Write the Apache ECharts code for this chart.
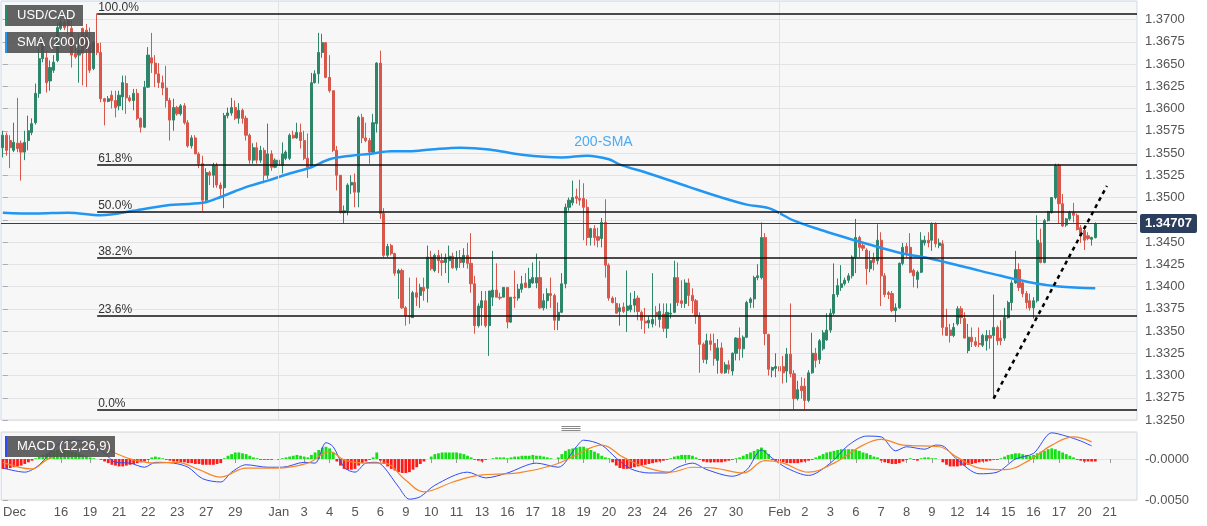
<!DOCTYPE html>
<html>
<head>
<meta charset="utf-8">
<script src="https://cdn.jsdelivr.net/npm/echarts/dist/echarts.min.js"></script>
<style>
html,body{margin:0;padding:0;background:#fff;}
#chart{width:1207px;height:526px;}
</style>
</head>
<body>
<div id="chart"></div>
<script>
// ---------------- DATA ----------------
// 4H candles: [open, close, low, high]
const candles = [
[1.3556,1.3570,1.3545,1.3575],[1.3570,1.3553,1.3547,1.3573],[1.3564,1.3556,1.3533,1.3570],[1.3553,1.3562,1.3551,1.3584],
[1.3561,1.3555,1.3551,1.3612],[1.3561,1.3551,1.3519,1.3564],[1.3551,1.3562,1.3542,1.3575],[1.3564,1.3575,1.3553,1.3592],
[1.3573,1.3583,1.3570,1.3589],[1.3584,1.3617,1.3582,1.3628],[1.3617,1.3656,1.3612,1.3669],[1.3656,1.3674,1.3652,1.3682],
[1.3657,1.3629,1.3618,1.3665],[1.3631,1.3646,1.3620,1.3654],[1.3643,1.3652,1.3640,1.3660],[1.3654,1.3691,1.3652,1.3697],
[1.3690,1.3697,1.3688,1.3701],[1.3697,1.3691,1.3688,1.3699],[1.3699,1.3693,1.3682,1.3701],[1.3690,1.3660,1.3646,1.3699],
[1.3662,1.3658,1.3656,1.3671],[1.3660,1.3665,1.3629,1.3684],[1.3690,1.3662,1.3626,1.3691],[1.3688,1.3669,1.3624,1.3695],
[1.3673,1.3643,1.3640,1.3691],[1.3645,1.3674,1.3643,1.3676],[1.3673,1.3663,1.3660,1.3707],[1.3663,1.3611,1.3607,1.3674],
[1.3611,1.3608,1.3581,1.3612],[1.3608,1.3611,1.3607,1.3614],[1.3615,1.3609,1.3600,1.3620],[1.3609,1.3601,1.3590,1.3620],
[1.3603,1.3615,1.3598,1.3620],[1.3613,1.3629,1.3598,1.3637],[1.3628,1.3612,1.3594,1.3637],[1.3612,1.3609,1.3607,1.3615],
[1.3609,1.3617,1.3598,1.3622],[1.3617,1.3589,1.3587,1.3622],[1.3589,1.3579,1.3573,1.3590],[1.3579,1.3624,1.3578,1.3631],
[1.3624,1.3660,1.3623,1.3669],[1.3657,1.3651,1.3640,1.3685],[1.3651,1.3639,1.3624,1.3660],[1.3639,1.3629,1.3623,1.3651],
[1.3629,1.3623,1.3615,1.3637],[1.3623,1.3609,1.3601,1.3648],[1.3609,1.3587,1.3564,1.3612],[1.3587,1.3601,1.3575,1.3611],
[1.3601,1.3594,1.3592,1.3603],[1.3594,1.3603,1.3592,1.3605],[1.3603,1.3584,1.3582,1.3606],[1.3584,1.3558,1.3556,1.3587],
[1.3558,1.3567,1.3555,1.3570],[1.3567,1.3549,1.3549,1.3570],[1.3549,1.3538,1.3533,1.3551],[1.3538,1.3497,1.3485,1.3547],
[1.3497,1.3528,1.3494,1.3533],[1.3528,1.3525,1.3514,1.3530],[1.3525,1.3536,1.3511,1.3539],[1.3536,1.3514,1.3511,1.3539],
[1.3514,1.3510,1.3502,1.3517],[1.3511,1.3592,1.3488,1.3595],[1.3592,1.3595,1.3589,1.3601],[1.3595,1.3601,1.3592,1.3612],
[1.3601,1.3589,1.3587,1.3609],[1.3589,1.3598,1.3583,1.3606],[1.3598,1.3589,1.3583,1.3600],[1.3589,1.3570,1.3564,1.3592],
[1.3570,1.3542,1.3538,1.3572],[1.3542,1.3556,1.3538,1.3561],[1.3556,1.3542,1.3538,1.3562],[1.3542,1.3553,1.3539,1.3558],
[1.3553,1.3525,1.3516,1.3556],[1.3525,1.3549,1.3521,1.3583],[1.3549,1.3534,1.3530,1.3553],[1.3534,1.3542,1.3533,1.3544],
[1.3542,1.3536,1.3527,1.3555],[1.3536,1.3549,1.3527,1.3562],[1.3544,1.3551,1.3542,1.3553],[1.3544,1.3570,1.3542,1.3572],
[1.3570,1.3567,1.3566,1.3575],[1.3567,1.3573,1.3566,1.3584],[1.3573,1.3564,1.3555,1.3583],[1.3564,1.3544,1.3542,1.3575],
[1.3544,1.3534,1.3522,1.3572],[1.3534,1.3629,1.3533,1.3640],[1.3629,1.3639,1.3628,1.3643],[1.3639,1.3663,1.3628,1.3685],
[1.3663,1.3674,1.3657,1.3684],[1.3674,1.3635,1.3634,1.3674],[1.3635,1.3620,1.3618,1.3660],[1.3620,1.3553,1.3551,1.3620],
[1.3553,1.3525,1.3508,1.3558],[1.3525,1.3483,1.3482,1.3525],[1.3483,1.3485,1.3471,1.3491],[1.3485,1.3514,1.3480,1.3516],
[1.3514,1.3517,1.3504,1.3525],[1.3517,1.3506,1.3489,1.3527],[1.3506,1.3590,1.3489,1.3592],[1.3590,1.3567,1.3561,1.3594],
[1.3567,1.3564,1.3562,1.3584],[1.3564,1.3551,1.3538,1.3567],[1.3551,1.3584,1.3549,1.3594],[1.3583,1.3651,1.3573,1.3652],
[1.3651,1.3482,1.3476,1.3665],[1.3482,1.3435,1.3433,1.3488],[1.3435,1.3445,1.3433,1.3448],[1.3446,1.3437,1.3435,1.3448],
[1.3437,1.3415,1.3412,1.3438],[1.3415,1.3418,1.3386,1.3420],[1.3418,1.3376,1.3375,1.3420],[1.3376,1.3367,1.3356,1.3378],
[1.3367,1.3366,1.3358,1.3410],[1.3365,1.3393,1.3365,1.3395],[1.3393,1.3388,1.3378,1.3410],[1.3390,1.3399,1.3376,1.3403],
[1.3399,1.3395,1.3384,1.3410],[1.3398,1.3433,1.3382,1.3446],[1.3433,1.3420,1.3418,1.3440],[1.3418,1.3435,1.3416,1.3437],
[1.3435,1.3429,1.3415,1.3441],[1.3429,1.3427,1.3412,1.3437],[1.3427,1.3432,1.3415,1.3437],[1.3429,1.3434,1.3404,1.3446],
[1.3434,1.3421,1.3420,1.3438],[1.3421,1.3432,1.3418,1.3440],[1.3432,1.3427,1.3421,1.3441],[1.3427,1.3435,1.3421,1.3443],
[1.3435,1.3426,1.3420,1.3449],[1.3426,1.3403,1.3393,1.3460],[1.3403,1.3356,1.3347,1.3412],[1.3356,1.3378,1.3354,1.3381],
[1.3376,1.3384,1.3356,1.3395],[1.3384,1.3356,1.3354,1.3395],[1.3356,1.3395,1.3322,1.3395],[1.3388,1.3396,1.3378,1.3440],
[1.3396,1.3388,1.3388,1.3426],[1.3388,1.3387,1.3385,1.3393],[1.3388,1.3399,1.3388,1.3399],[1.3399,1.3360,1.3353,1.3399],
[1.3360,1.3388,1.3359,1.3388],[1.3388,1.3387,1.3376,1.3418],[1.3387,1.3397,1.3384,1.3403],[1.3397,1.3403,1.3393,1.3412],
[1.3404,1.3399,1.3399,1.3415],[1.3399,1.3408,1.3398,1.3421],[1.3404,1.3410,1.3403,1.3427],[1.3404,1.3410,1.3398,1.3437],
[1.3410,1.3376,1.3375,1.3429],[1.3376,1.3384,1.3373,1.3392],[1.3384,1.3392,1.3375,1.3398],[1.3392,1.3390,1.3376,1.3410],
[1.3390,1.3362,1.3351,1.3392],[1.3362,1.3371,1.3351,1.3382],[1.3371,1.3403,1.3370,1.3415],[1.3403,1.3489,1.3398,1.3493],
[1.3489,1.3497,1.3485,1.3500],[1.3494,1.3500,1.3491,1.3519],[1.3501,1.3499,1.3493,1.3510],[1.3499,1.3497,1.3491,1.3520],
[1.3499,1.3489,1.3452,1.3516],[1.3489,1.3455,1.3446,1.3498],[1.3455,1.3465,1.3446,1.3466],[1.3465,1.3455,1.3446,1.3469],
[1.3456,1.3452,1.3444,1.3466],[1.3454,1.3472,1.3444,1.3477],[1.3472,1.3424,1.3410,1.3498],[1.3424,1.3387,1.3384,1.3426],
[1.3387,1.3382,1.3381,1.3389],[1.3381,1.3370,1.3370,1.3388],[1.3372,1.3376,1.3356,1.3381],[1.3377,1.3372,1.3370,1.3382],
[1.3373,1.3378,1.3349,1.3418],[1.3374,1.3379,1.3371,1.3393],[1.3379,1.3386,1.3371,1.3395],[1.3387,1.3372,1.3362,1.3390],
[1.3371,1.3362,1.3352,1.3373],[1.3361,1.3359,1.3347,1.3376],[1.3359,1.3362,1.3353,1.3367],[1.3358,1.3363,1.3354,1.3415],
[1.3371,1.3367,1.3356,1.3378],[1.3363,1.3372,1.3354,1.3381],[1.3369,1.3353,1.3349,1.3381],[1.3353,1.3371,1.3342,1.3381],
[1.3369,1.3370,1.3364,1.3381],[1.3371,1.3410,1.3370,1.3429],[1.3410,1.3382,1.3378,1.3427],[1.3384,1.3381,1.3376,1.3407],
[1.3381,1.3404,1.3376,1.3408],[1.3404,1.3390,1.3378,1.3409],[1.3390,1.3384,1.3370,1.3398],[1.3384,1.3367,1.3358,1.3386],
[1.3367,1.3335,1.3303,1.3371],[1.3335,1.3318,1.3314,1.3337],[1.3318,1.3339,1.3313,1.3347],[1.3339,1.3335,1.3328,1.3347],
[1.3336,1.3319,1.3311,1.3347],[1.3317,1.3331,1.3302,1.3341],[1.3331,1.3303,1.3302,1.3337],[1.3303,1.3312,1.3302,1.3315],
[1.3312,1.3307,1.3302,1.3317],[1.3305,1.3325,1.3300,1.3326],[1.3325,1.3342,1.3317,1.3343],[1.3342,1.3330,1.3317,1.3354],
[1.3330,1.3343,1.3320,1.3345],[1.3343,1.3382,1.3342,1.3384],[1.3382,1.3386,1.3376,1.3388],[1.3386,1.3410,1.3376,1.3412],
[1.3410,1.3412,1.3407,1.3425],[1.3410,1.3455,1.3408,1.3472],[1.3455,1.3347,1.3334,1.3460],[1.3346,1.3307,1.3300,1.3347],
[1.3306,1.3309,1.3298,1.3310],[1.3308,1.3310,1.3298,1.3325],[1.3310,1.3305,1.3302,1.3313],[1.3310,1.3303,1.3291,1.3322],
[1.3305,1.3324,1.3292,1.3331],[1.3324,1.3302,1.3298,1.3381],[1.3302,1.3274,1.3262,1.3306],[1.3274,1.3284,1.3272,1.3294],
[1.3288,1.3283,1.3274,1.3298],[1.3288,1.3272,1.3262,1.3297],[1.3272,1.3303,1.3270,1.3306],[1.3303,1.3325,1.3302,1.3348],
[1.3325,1.3317,1.3309,1.3331],[1.3318,1.3339,1.3313,1.3341],[1.3330,1.3348,1.3328,1.3351],[1.3340,1.3351,1.3339,1.3370],
[1.3351,1.3370,1.3348,1.3375],[1.3370,1.3391,1.3368,1.3426],[1.3391,1.3401,1.3388,1.3409],[1.3399,1.3403,1.3395,1.3424],
[1.3403,1.3407,1.3401,1.3410],[1.3407,1.3412,1.3404,1.3415],[1.3412,1.3433,1.3409,1.3435],[1.3433,1.3455,1.3415,1.3476],
[1.3455,1.3444,1.3433,1.3457],[1.3446,1.3443,1.3440,1.3449],[1.3441,1.3420,1.3402,1.3443],[1.3420,1.3429,1.3416,1.3440],
[1.3432,1.3427,1.3418,1.3438],[1.3429,1.3452,1.3425,1.3470],[1.3452,1.3412,1.3378,1.3461],[1.3412,1.3391,1.3388,1.3415],
[1.3393,1.3391,1.3386,1.3395],[1.3392,1.3373,1.3371,1.3395],[1.3373,1.3376,1.3360,1.3381],[1.3376,1.3426,1.3375,1.3427],
[1.3426,1.3444,1.3424,1.3449],[1.3445,1.3438,1.3433,1.3449],[1.3444,1.3416,1.3415,1.3460],[1.3418,1.3412,1.3399,1.3420],
[1.3408,1.3416,1.3398,1.3418],[1.3416,1.3452,1.3415,1.3461],[1.3449,1.3452,1.3446,1.3457],[1.3452,1.3449,1.3444,1.3461],
[1.3452,1.3471,1.3440,1.3472],[1.3471,1.3448,1.3444,1.3472],[1.3446,1.3449,1.3443,1.3454],[1.3448,1.3354,1.3345,1.3452],
[1.3354,1.3345,1.3345,1.3375],[1.3351,1.3345,1.3337,1.3358],[1.3345,1.3354,1.3343,1.3359],[1.3358,1.3375,1.3356,1.3378],
[1.3375,1.3365,1.3358,1.3378],[1.3364,1.3342,1.3342,1.3371],[1.3328,1.3343,1.3325,1.3358],[1.3343,1.3338,1.3332,1.3354],
[1.3338,1.3334,1.3332,1.3343],[1.3336,1.3335,1.3332,1.3354],[1.3334,1.3345,1.3332,1.3347],[1.3339,1.3345,1.3328,1.3351],
[1.3345,1.3342,1.3330,1.3351],[1.3345,1.3354,1.3274,1.3391],[1.3354,1.3339,1.3334,1.3356],[1.3342,1.3339,1.3334,1.3362],
[1.3342,1.3365,1.3339,1.3376],[1.3365,1.3382,1.3364,1.3384],[1.3382,1.3404,1.3373,1.3407],[1.3404,1.3419,1.3403,1.3440],
[1.3419,1.3399,1.3395,1.3426],[1.3404,1.3392,1.3388,1.3407],[1.3392,1.3382,1.3375,1.3395],[1.3384,1.3376,1.3373,1.3392],
[1.3376,1.3384,1.3364,1.3388],[1.3384,1.3452,1.3382,1.3480],[1.3449,1.3427,1.3426,1.3465],[1.3427,1.3474,1.3426,1.3476],
[1.3474,1.3484,1.3473,1.3485],[1.3483,1.3500,1.3482,1.3500],[1.3500,1.3536,1.3498,1.3538],[1.3536,1.3493,1.3471,1.3538],
[1.3493,1.3468,1.3467,1.3504],[1.3469,1.3476,1.3467,1.3477],[1.3476,1.3483,1.3474,1.3485],[1.3483,1.3480,1.3472,1.3494],
[1.3480,1.3464,1.3463,1.3482],[1.3466,1.3457,1.3449,1.3469],[1.3463,1.3452,1.3441,1.3466],[1.3457,1.3454,1.3452,1.3461],
[1.3453,1.3455,1.3446,1.3456],[1.3455,1.34707,1.3454,1.3472]
];

// 200-period SMA: [candle index, value]
const sma200 = [
[0,1.3483],[9,1.3482],[18,1.3483],[27,1.3480],[36,1.3485],[45,1.3491],[55,1.3494],[59,1.3499],[64,1.3507],[68,1.3513],
[73,1.3519],[79,1.3527],[85,1.3534],[90,1.3543],[96,1.3547],[101,1.3549],[107,1.3552],[112,1.3552],[118,1.3554],[126,1.3556],
[134,1.3554],[143,1.3548],[154,1.3545],[161,1.3547],[167,1.3543],[170,1.3537],[178,1.3527],[189,1.3512],[198,1.3500],[205,1.3492],
[211,1.3488],[218,1.3474],[225,1.3464],[233,1.3454],[238,1.3448],[247,1.3438],[256,1.3431],[266,1.3421],[275,1.3412],[284,1.3404],
[291,1.3400],[301,1.3398]
];

// MACD (12,26,9)
const macdLine = [
[0,-0.0011],[6,-0.0016],[10,-0.0007],[15,0.0017],[19,0.0023],[24,0.0020],[28,0.0007],[31,-0.0004],[35,-0.0005],[39,-0.0010],
[42,-0.0004],[47,-0.0005],[51,-0.0010],[55,-0.0024],[60,-0.0028],[63,-0.0016],[67,-0.0007],[73,-0.0010],[77,-0.0010],[83,-0.0004],
[86,-0.0005],[89,0.0020],[91,0.0015],[94,-0.0010],[97,-0.0016],[100,-0.0005],[103,-0.0004],[105,-0.0010],[109,-0.0034],[112,-0.0049],
[115,-0.0046],[119,-0.0032],[128,-0.0016],[133,-0.0023],[139,-0.0017],[147,-0.0005],[153,-0.0010],[158,0.0015],[160,0.0023],[165,0.0017],
[169,0.0001],[173,-0.0012],[178,-0.0017],[183,-0.0017],[186,-0.0010],[190,-0.0005],[194,-0.0013],[201,-0.0021],[205,-0.0013],[209,0.0011],
[212,0.0001],[216,-0.0011],[222,-0.0020],[228,-0.0005],[233,0.0017],[238,0.0028],[242,0.0027],[246,0.0010],[249,0.0015],[254,0.0012],
[257,0.0017],[259,0.0016],[263,-0.0001],[269,-0.0018],[274,-0.0016],[279,0.0000],[284,0.0007],[289,0.0032],[293,0.0028],[297,0.0022],
[300,0.0016]
];
const signalLine = [
[0,-0.0004],[8,-0.0012],[12,-0.0001],[21,0.0017],[26,0.0020],[31,0.0007],[36,-0.0001],[42,-0.0005],[48,-0.0004],[54,-0.0013],
[60,-0.0022],[67,-0.0011],[75,-0.0011],[84,-0.0005],[90,0.0009],[94,-0.0001],[100,-0.0005],[105,-0.0005],[111,-0.0026],[116,-0.0040],
[124,-0.0028],[131,-0.0020],[142,-0.0017],[152,-0.0007],[158,0.0005],[165,0.0017],[171,0.0002],[177,-0.0010],[184,-0.0016],[190,-0.0010],
[196,-0.0011],[204,-0.0017],[210,-0.0002],[215,-0.0005],[222,-0.0016],[229,-0.0005],[237,0.0017],[242,0.0024],[248,0.0017],[258,0.0015],
[263,0.0002],[269,-0.0011],[276,-0.0013],[283,-0.0001],[289,0.0017],[295,0.0027],[300,0.0021]
];
const macdHist = [
-0.0012,-0.0012,-0.0011,-0.0010,-0.0009,-0.0008,-0.0006,-0.0004,-0.0002,
0.0001,0.0003,0.0005,0.0007,0.0009,0.0010,0.0011,0.0011,0.0011,0.0010,0.0009,0.0008,0.0007,0.0005,0.0004,0.0002,
0.0001,0.0000,
-0.0001,-0.0003,-0.0005,-0.0007,-0.0008,-0.0009,-0.0009,-0.0008,-0.0007,-0.0006,-0.0005,-0.0004,-0.0003,-0.0001,
0.0002,0.0003,0.0002,0.0001,
-0.0001,-0.0002,-0.0003,-0.0003,-0.0004,-0.0004,-0.0005,-0.0005,-0.0006,-0.0006,-0.0007,-0.0007,-0.0007,-0.0007,-0.0006,-0.0005,
0.0001,0.0004,0.0006,0.0008,0.0008,0.0007,0.0006,0.0004,0.0002,0.0001,
-0.0001,-0.0001,-0.0001,-0.0001,0.0000,-0.0001,0.0001,0.0002,
0.0003,0.0004,0.0005,0.0004,0.0003,0.0002,
0.0005,0.0008,0.0011,0.0014,0.0015,0.0013,0.0008,
-0.0003,-0.0008,-0.0012,-0.0013,-0.0013,-0.0012,-0.0008,-0.0005,-0.0003,
-0.0001,0.0002,0.0008,
-0.0002,-0.0006,-0.0009,-0.0012,-0.0014,-0.0016,-0.0017,-0.0017,-0.0016,-0.0013,-0.0010,-0.0006,-0.0003,
0.0000,0.0003,0.0006,0.0007,0.0008,0.0008,0.0008,0.0008,0.0008,0.0007,0.0006,0.0004,0.0002,
-0.0001,-0.0002,-0.0003,-0.0001,0.0000,
0.0001,0.0002,0.0002,0.0002,0.0001,0.0002,0.0003,0.0003,0.0004,0.0004,0.0004,0.0005,0.0004,0.0004,0.0003,0.0002,0.0001,0.0000,
0.0002,0.0006,0.0010,0.0012,0.0013,0.0014,0.0015,0.0015,0.0013,0.0011,0.0009,0.0007,0.0004,0.0002,0.0001,
-0.0004,-0.0008,-0.0011,-0.0012,-0.0012,-0.0011,-0.0010,-0.0009,-0.0008,-0.0007,-0.0006,-0.0005,-0.0004,-0.0003,-0.0002,-0.0001,
0.0001,0.0003,0.0004,0.0005,0.0005,0.0005,0.0004,0.0002,
-0.0001,-0.0003,-0.0004,-0.0004,-0.0004,-0.0004,-0.0004,-0.0003,-0.0002,-0.0001,
0.0001,0.0002,0.0004,0.0006,0.0008,0.0010,0.0012,0.0014,0.0011,0.0006,
-0.0001,-0.0002,-0.0003,-0.0004,-0.0005,-0.0005,-0.0005,-0.0005,-0.0004,-0.0003,-0.0002,-0.0001,
0.0002,0.0004,0.0006,0.0008,0.0009,0.0010,0.0011,0.0012,0.0012,0.0012,0.0012,0.0011,0.0010,0.0008,0.0007,0.0005,0.0003,0.0002,
-0.0002,-0.0004,-0.0005,-0.0006,-0.0006,-0.0005,-0.0003,-0.0001,
0.0001,-0.0001,-0.0002,0.0001,0.0002,0.0002,0.0001,0.0001,0.0000,
-0.0004,-0.0007,-0.0009,-0.0009,-0.0009,-0.0008,-0.0008,-0.0007,-0.0006,-0.0005,-0.0004,-0.0003,-0.0003,-0.0002,-0.0001,-0.0001,
0.0001,0.0003,0.0005,0.0006,0.0007,0.0007,0.0006,0.0005,0.0004,0.0005,0.0007,0.0009,0.0010,0.0012,0.0013,0.0012,0.0010,0.0008,0.0006,0.0004,0.0002,
-0.0001,-0.0002,-0.0003,-0.0003,-0.0003,-0.0003
];

// x-axis tick labels (slot index -> text)
const tickIndex = [0,16,24,32,40,48,56,64,76,83,90,97,104,111,118,125,132,139,146,153,160,167,174,181,188,195,202,214,221,228,235,242,249,256,263,270,277,284,291,298,305];
const tickText  = ['Dec','16','19','21','22','23','27','29','Jan','3','4','5','6','9','10','11','13','16','17','18','19','20','23','24','26','27','30','Feb','2','3','6','7','8','9','12','14','15','16','17','20','21'];
const monthStartIndex = [76, 214];

// Fibonacci retracement (swing high at candle 26, swing low)
const fibHigh = 1.3707, fibLow = 1.3262, fibStartIndex = 26;
const fibRatios = [1, 0.618, 0.5, 0.382, 0.236, 0];

// Rising trend line (analyst drawing): [index, price]
const trendLine = [[273, 1.3274], [304.2, 1.3513]];
const lastPrice = 1.34707;
const smaLabelPos = [165.5, 1.3562];

// ---------------- CHART ----------------
const SLOTS = 313;
const cats = Array.from({length: SLOTS}, (_, i) => String(i));
const tickMap = {}; tickIndex.forEach((k, j) => tickMap[k] = tickText[j]);
const isTick = (i) => tickMap[i] !== undefined;

const GREEN = '#2e866a', RED = '#d9574a', BLUE = '#2196f3';

const chart = echarts.init(document.getElementById('chart'), null, {renderer: 'canvas'});

const fibData = fibRatios.map(r => {
  const lvl = fibLow + r * (fibHigh - fibLow);
  return [
    {coord: [fibStartIndex, lvl], name: (r * 100).toFixed(1) + '%'},
    {coord: [SLOTS - 0.5, lvl]}
  ];
});

function legendBox(top, w, text, stripe) {
  return {
    type: 'group', left: 5, top: top, z: 100, zlevel: 1,
    children: [
      {type: 'rect', z: 100, zlevel: 1, shape: {x: 0, y: 0, width: w, height: 21}, style: {fill: 'rgba(78,78,78,0.88)'}},
      {type: 'rect', z: 101, zlevel: 1, shape: {x: 0, y: 0, width: 2, height: 21}, style: {fill: stripe}},
      {type: 'text', z: 102, zlevel: 1, x: 12, y: 4, style: {text: text, fill: '#fff', font: '13px "Liberation Sans", Arial, sans-serif'}}
    ]
  };
}

const option = {
  animation: false,
  backgroundColor: '#ffffff',
  textStyle: {fontFamily: '"Liberation Sans", Arial, sans-serif'},
  grid: [
    {left: 1, right: 70, top: 1, height: 419, show: true, backgroundColor: '#f7f7f7', borderColor: '#cfd7e6', borderWidth: 1},
    {left: 1, right: 70, top: 432, height: 68, show: true, backgroundColor: '#f7f7f7', borderColor: '#cfd7e6', borderWidth: 1}
  ],
  xAxis: [
    {type: 'category', gridIndex: 0, data: cats, boundaryGap: true,
     axisLine: {show: false}, axisTick: {show: false}, axisLabel: {show: false}, splitLine: {show: false}},
    {type: 'category', gridIndex: 1, data: cats, boundaryGap: true,
     axisLine: {show: false},
     axisTick: {show: true, alignWithLabel: true, interval: (i) => isTick(i), length: 4, lineStyle: {color: '#9a9a9a'}},
     axisLabel: {interval: (i) => isTick(i), formatter: (v) => tickMap[+v] || '', color: '#555', fontSize: 13, margin: 6, alignMinLabel: 'left'},
     splitLine: {show: false}},
    {type: 'value', gridIndex: 0, min: -0.5, max: SLOTS - 0.5, show: false},
    {type: 'value', gridIndex: 1, min: -0.5, max: SLOTS - 0.5, show: false}
  ],
  yAxis: [
    {type: 'value', gridIndex: 0, position: 'right', min: 1.3250, max: 1.37208, interval: 0.0025,
     axisLine: {show: false},
     axisTick: {show: true, length: 5, lineStyle: {color: '#aab'}},
     axisLabel: {formatter: (v) => v.toFixed(4), color: '#555', fontSize: 13, margin: 8, showMaxLabel: false},
     splitLine: {show: true, lineStyle: {color: '#e3e3e3', width: 1}}},
    {type: 'value', gridIndex: 1, position: 'right', min: -0.005, max: 0.0033, interval: 0.005,
     axisLine: {show: false},
     axisTick: {show: true, length: 5, lineStyle: {color: '#aab'}},
     axisLabel: {formatter: (v) => (Math.abs(v) < 1e-9 ? '-0.0000' : v.toFixed(4)), color: '#555', fontSize: 13, margin: 8, showMaxLabel: false},
     splitLine: {show: true, lineStyle: {color: '#e3e3e3', width: 1}}}
  ],
  series: [
    // month separators (main pane)
    {type: 'line', xAxisIndex: 2, yAxisIndex: 0, data: [[0, fibLow]], symbol: 'none', lineStyle: {opacity: 0}, z: 1, silent: true,
     markLine: {silent: true, symbol: ['none', 'none'], label: {show: false},
       lineStyle: {color: '#e2e2e2', width: 1, type: 'solid'},
       data: monthStartIndex.map(i => ({xAxis: i}))}},
    // candles
    {type: 'candlestick', name: 'USD/CAD', xAxisIndex: 0, yAxisIndex: 0, data: candles, barWidth: 2.6, z: 3,
     itemStyle: {color: GREEN, color0: RED, borderColor: GREEN, borderColor0: RED, borderWidth: 1}},
    // current price line + tag
    {type: 'line', xAxisIndex: 2, yAxisIndex: 0, data: [[0, lastPrice]], symbol: 'none', lineStyle: {opacity: 0}, z: 7, silent: true,
     markLine: {silent: true, symbol: ['none', 'none'],
       lineStyle: {color: '#2c3f5e', width: 1, type: 'solid'},
       label: {show: true, position: 'end', formatter: lastPrice.toFixed(5), color: '#fff', fontWeight: 'bold', fontSize: 13,
               backgroundColor: '#2b3e5d', padding: [3, 5, 3, 5], borderRadius: 2, distance: 3},
       data: [[{coord: [-0.5, lastPrice]}, {coord: [SLOTS - 0.5, lastPrice]}]]}},
    // 200 SMA
    {type: 'line', name: 'SMA (200,0)', xAxisIndex: 2, yAxisIndex: 0, data: sma200, smooth: 0.35, symbol: 'none', z: 4,
     lineStyle: {color: BLUE, width: 2.5}},
    // Fibonacci levels
    {type: 'line', xAxisIndex: 2, yAxisIndex: 0, data: [[fibStartIndex, fibHigh]], symbol: 'none', lineStyle: {opacity: 0}, z: 5, silent: true,
     markLine: {silent: true, symbol: ['none', 'none'],
       lineStyle: {color: '#111', width: 1.5, type: 'solid'},
       label: {show: true, position: 'insideStartTop', formatter: '{b}', color: '#333', fontSize: 12, distance: [1, 0]},
       data: fibData}},
    // trend line
    {type: 'line', xAxisIndex: 2, yAxisIndex: 0, data: trendLine, symbol: 'none', z: 6,
     lineStyle: {color: '#000', width: 2.5, type: [4, 4]}},
    // 200-SMA label
    {type: 'scatter', xAxisIndex: 2, yAxisIndex: 0, data: [smaLabelPos], symbolSize: 1, z: 6,
     itemStyle: {color: 'rgba(0,0,0,0)'},
     label: {show: true, position: 'inside', formatter: '200-SMA', color: BLUE, fontSize: 14}},
    // month separators (MACD pane)
    {type: 'line', xAxisIndex: 3, yAxisIndex: 1, data: [[0, 0]], symbol: 'none', lineStyle: {opacity: 0}, z: 1, silent: true,
     markLine: {silent: true, symbol: ['none', 'none'], label: {show: false},
       lineStyle: {color: '#e2e2e2', width: 1, type: 'solid'},
       data: monthStartIndex.map(i => ({xAxis: i}))}},
    // MACD histogram
    {type: 'bar', name: 'MACD hist', xAxisIndex: 1, yAxisIndex: 1, data: macdHist, barWidth: 2.8, z: 2,
     itemStyle: {color: (p) => (p.value >= 0 ? '#14e014' : '#ff1a1a')}},
    // MACD & signal
    {type: 'line', xAxisIndex: 3, yAxisIndex: 1, data: macdLine, smooth: 0.3, symbol: 'none', z: 3,
     lineStyle: {color: '#2f4cf5', width: 1}},
    {type: 'line', xAxisIndex: 3, yAxisIndex: 1, data: signalLine, smooth: 0.4, symbol: 'none', z: 3,
     lineStyle: {color: '#f5862a', width: 1.2}}
  ],
  graphic: [
    legendBox(5, 78, 'USD/CAD', GREEN),
    legendBox(32, 90, 'SMA (200,0)', BLUE),
    legendBox(436, 110, 'MACD (12,26,9)', '#2f4cf5'),
    {type: 'group', left: 559, top: 424, z: 100, children: [
      {type: 'line', shape: {x1: 0, y1: 0, x2: 19, y2: 0}, style: {stroke: '#888', lineWidth: 1}},
      {type: 'line', shape: {x1: 0, y1: 2, x2: 19, y2: 2}, style: {stroke: '#888', lineWidth: 1}},
      {type: 'line', shape: {x1: 0, y1: 4, x2: 19, y2: 4}, style: {stroke: '#888', lineWidth: 1}}
    ]}
  ]
};

chart.setOption(option);
</script>
</body>
</html>
